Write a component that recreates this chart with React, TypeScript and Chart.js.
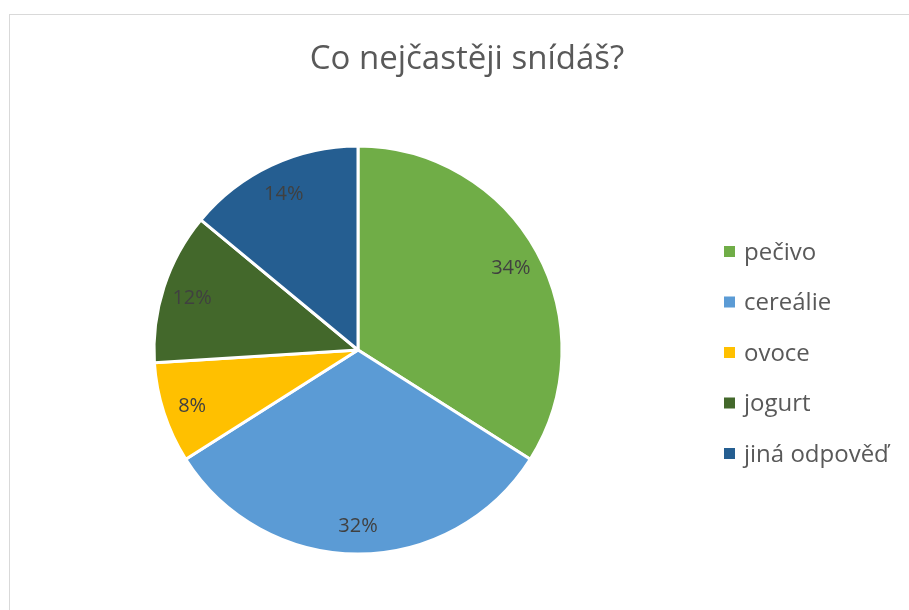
import React, { useEffect, useRef } from "react";
import { Chart, registerables } from "chart.js";

Chart.register(...registerables);

const TITLE = "Co nejčastěji snídáš?";
const CATEGORIES = ["pečivo", "cereálie", "ovoce", "jogurt", "jiná odpověď"];
const VALUES = [34, 32, 8, 12, 14];
const COLORS = ["#70AD47", "#5B9BD5", "#FFC000", "#43682B", "#255E91"];

const FONT = "'Open Sans', Lato, 'DejaVu Sans', sans-serif";

const titlePlugin = {
  id: "customTitle",
  afterDraw(chart: any) {
    const ctx = chart.ctx;
    ctx.save();
    ctx.font = `33px ${FONT}`;
    ctx.fillStyle = "#595959";
    ctx.textAlign = "center";
    ctx.textBaseline = "alphabetic";
    ctx.fillText(TITLE, 467, 69);
    ctx.restore();
  },
};

const legendPlugin = {
  id: "customLegend",
  afterDraw(chart: any) {
    const ctx = chart.ctx;
    const labels: string[] = chart.data.labels;
    const colors: string[] = chart.data.datasets[0].backgroundColor;
    const step = 50.5;
    const centerY = 352;
    const startY = centerY - (step * (labels.length - 1)) / 2;
    ctx.save();
    ctx.font = `24px ${FONT}`;
    ctx.textBaseline = "alphabetic";
    ctx.textAlign = "left";
    labels.forEach((label, i) => {
      const y = startY + i * step;
      ctx.fillStyle = colors[i];
      ctx.fillRect(724, y - 5, 11, 11);
      ctx.fillStyle = "#595959";
      ctx.fillText(label, 744, y + 8.5);
    });
    ctx.restore();
  },
};

const dataLabelPlugin = {
  id: "sliceLabels",
  afterDatasetsDraw(chart: any) {
    const ctx = chart.ctx;
    const meta = chart.getDatasetMeta(0);
    const data: number[] = chart.data.datasets[0].data;
    ctx.save();
    ctx.font = `20px ${FONT}`;
    ctx.fillStyle = "#404040";
    ctx.textAlign = "center";
    ctx.textBaseline = "middle";
    meta.data.forEach((arc: any, i: number) => {
      const p = arc.getProps(["x", "y", "startAngle", "endAngle", "outerRadius"], true);
      const mid = (p.startAngle + p.endAngle) / 2;
      const r = p.outerRadius * 0.855;
      ctx.fillText(`${data[i]}%`, p.x + Math.cos(mid) * r, p.y + Math.sin(mid) * r + 2);
    });
    ctx.restore();
  },
};

export default function App() {
  const ref = useRef<HTMLCanvasElement | null>(null);

  useEffect(() => {
    if (!ref.current) return;
    const chart = new Chart(ref.current, {
      type: "pie",
      data: {
        labels: CATEGORIES,
        datasets: [
          {
            data: VALUES,
            backgroundColor: COLORS,
            borderColor: "#ffffff",
            borderWidth: 3,
            radius: 204,
          } as any,
        ],
      },
      options: {
        responsive: false,
        animation: false,
        events: [],
        layout: { padding: { left: 0, right: 193, top: 130, bottom: 40 } },
        plugins: {
          legend: { display: false },
          title: { display: false },
          tooltip: { enabled: false },
        },
      },
      plugins: [titlePlugin, legendPlugin, dataLabelPlugin],
    });
    return () => chart.destroy();
  }, []);

  return (
    <div
      style={{
        position: "fixed",
        left: 0,
        top: 0,
        width: 909,
        height: 610,
        overflow: "hidden",
        background: "#ffffff",
      }}
    >
      <div
        style={{
          position: "absolute",
          left: 9,
          top: 14,
          width: 1000,
          height: 1000,
          border: "1px solid #d9d9d9",
          boxSizing: "border-box",
        }}
      />
      <canvas
        ref={ref}
        width={909}
        height={610}
        style={{ position: "absolute", left: 0, top: 0, width: 909, height: 610 }}
      />
    </div>
  );
}
